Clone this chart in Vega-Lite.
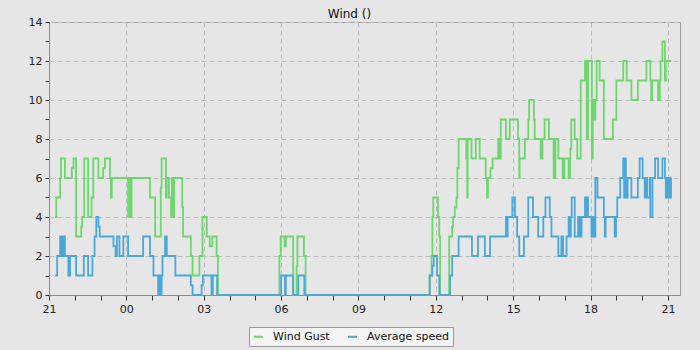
{
  "$schema": "https://vega.github.io/schema/vega-lite/v6.json",
  "width": 631,
  "height": 273,
  "autosize": {"type": "none"},
  "padding": {"left": 49, "top": 22, "right": 20, "bottom": 55},
  "background": "#e6e6e6",
  "title": {"text": "Wind ()", "fontSize": 12, "fontWeight": "normal", "font": "DejaVu Sans", "color": "#111111", "offset": 4, "dy": 9, "dx": -15},
  "data": {"values": [
    {"time": "2024-01-15T21:14", "series": "Wind Gust", "speed": 4},
    {"time": "2024-01-15T21:17", "series": "Wind Gust", "speed": 5},
    {"time": "2024-01-15T21:26", "series": "Wind Gust", "speed": 6},
    {"time": "2024-01-15T21:28", "series": "Wind Gust", "speed": 7},
    {"time": "2024-01-15T21:37", "series": "Wind Gust", "speed": 6},
    {"time": "2024-01-15T21:53", "series": "Wind Gust", "speed": 6.5},
    {"time": "2024-01-15T21:57", "series": "Wind Gust", "speed": 7},
    {"time": "2024-01-15T22:03", "series": "Wind Gust", "speed": 3},
    {"time": "2024-01-15T22:15", "series": "Wind Gust", "speed": 3.5},
    {"time": "2024-01-15T22:17", "series": "Wind Gust", "speed": 4},
    {"time": "2024-01-15T22:22", "series": "Wind Gust", "speed": 7},
    {"time": "2024-01-15T22:31", "series": "Wind Gust", "speed": 4},
    {"time": "2024-01-15T22:39", "series": "Wind Gust", "speed": 5},
    {"time": "2024-01-15T22:43", "series": "Wind Gust", "speed": 7},
    {"time": "2024-01-15T22:55", "series": "Wind Gust", "speed": 6},
    {"time": "2024-01-15T23:06", "series": "Wind Gust", "speed": 6.5},
    {"time": "2024-01-15T23:10", "series": "Wind Gust", "speed": 7},
    {"time": "2024-01-15T23:22", "series": "Wind Gust", "speed": 6},
    {"time": "2024-01-15T23:24", "series": "Wind Gust", "speed": 5},
    {"time": "2024-01-15T23:26", "series": "Wind Gust", "speed": 6},
    {"time": "2024-01-16T00:04", "series": "Wind Gust", "speed": 4},
    {"time": "2024-01-16T00:06", "series": "Wind Gust", "speed": 6},
    {"time": "2024-01-16T00:08", "series": "Wind Gust", "speed": 4},
    {"time": "2024-01-16T00:12", "series": "Wind Gust", "speed": 6},
    {"time": "2024-01-16T00:55", "series": "Wind Gust", "speed": 5},
    {"time": "2024-01-16T01:07", "series": "Wind Gust", "speed": 3},
    {"time": "2024-01-16T01:20", "series": "Wind Gust", "speed": 5.5},
    {"time": "2024-01-16T01:22", "series": "Wind Gust", "speed": 7},
    {"time": "2024-01-16T01:32", "series": "Wind Gust", "speed": 5},
    {"time": "2024-01-16T01:34", "series": "Wind Gust", "speed": 6},
    {"time": "2024-01-16T01:39", "series": "Wind Gust", "speed": 5},
    {"time": "2024-01-16T01:44", "series": "Wind Gust", "speed": 4},
    {"time": "2024-01-16T01:46", "series": "Wind Gust", "speed": 6},
    {"time": "2024-01-16T01:47", "series": "Wind Gust", "speed": 4},
    {"time": "2024-01-16T01:51", "series": "Wind Gust", "speed": 6},
    {"time": "2024-01-16T02:10", "series": "Wind Gust", "speed": 4.5},
    {"time": "2024-01-16T02:12", "series": "Wind Gust", "speed": 3},
    {"time": "2024-01-16T02:30", "series": "Wind Gust", "speed": 2},
    {"time": "2024-01-16T02:34", "series": "Wind Gust", "speed": 1},
    {"time": "2024-01-16T02:50", "series": "Wind Gust", "speed": 2},
    {"time": "2024-01-16T02:57", "series": "Wind Gust", "speed": 4},
    {"time": "2024-01-16T03:07", "series": "Wind Gust", "speed": 3},
    {"time": "2024-01-16T03:14", "series": "Wind Gust", "speed": 2.5},
    {"time": "2024-01-16T03:20", "series": "Wind Gust", "speed": 3},
    {"time": "2024-01-16T03:30", "series": "Wind Gust", "speed": 2},
    {"time": "2024-01-16T03:33", "series": "Wind Gust", "speed": 0},
    {"time": "2024-01-16T05:56", "series": "Wind Gust", "speed": 2},
    {"time": "2024-01-16T05:59", "series": "Wind Gust", "speed": 3},
    {"time": "2024-01-16T06:08", "series": "Wind Gust", "speed": 2.5},
    {"time": "2024-01-16T06:11", "series": "Wind Gust", "speed": 3},
    {"time": "2024-01-16T06:28", "series": "Wind Gust", "speed": 0},
    {"time": "2024-01-16T06:36", "series": "Wind Gust", "speed": 1.5},
    {"time": "2024-01-16T06:38", "series": "Wind Gust", "speed": 3},
    {"time": "2024-01-16T06:53", "series": "Wind Gust", "speed": 2},
    {"time": "2024-01-16T06:57", "series": "Wind Gust", "speed": 0},
    {"time": "2024-01-16T11:45", "series": "Wind Gust", "speed": 1},
    {"time": "2024-01-16T11:50", "series": "Wind Gust", "speed": 2},
    {"time": "2024-01-16T11:52", "series": "Wind Gust", "speed": 4},
    {"time": "2024-01-16T11:54", "series": "Wind Gust", "speed": 5},
    {"time": "2024-01-16T12:05", "series": "Wind Gust", "speed": 4},
    {"time": "2024-01-16T12:08", "series": "Wind Gust", "speed": 3},
    {"time": "2024-01-16T12:10", "series": "Wind Gust", "speed": 0},
    {"time": "2024-01-16T12:31", "series": "Wind Gust", "speed": 3},
    {"time": "2024-01-16T12:38", "series": "Wind Gust", "speed": 3.5},
    {"time": "2024-01-16T12:40", "series": "Wind Gust", "speed": 4},
    {"time": "2024-01-16T12:44", "series": "Wind Gust", "speed": 4.5},
    {"time": "2024-01-16T12:48", "series": "Wind Gust", "speed": 5},
    {"time": "2024-01-16T12:50", "series": "Wind Gust", "speed": 6.5},
    {"time": "2024-01-16T12:53", "series": "Wind Gust", "speed": 8},
    {"time": "2024-01-16T13:11", "series": "Wind Gust", "speed": 7},
    {"time": "2024-01-16T13:13", "series": "Wind Gust", "speed": 5},
    {"time": "2024-01-16T13:14", "series": "Wind Gust", "speed": 8},
    {"time": "2024-01-16T13:23", "series": "Wind Gust", "speed": 7},
    {"time": "2024-01-16T13:33", "series": "Wind Gust", "speed": 8},
    {"time": "2024-01-16T13:42", "series": "Wind Gust", "speed": 7},
    {"time": "2024-01-16T13:56", "series": "Wind Gust", "speed": 6},
    {"time": "2024-01-16T13:59", "series": "Wind Gust", "speed": 5},
    {"time": "2024-01-16T14:01", "series": "Wind Gust", "speed": 6},
    {"time": "2024-01-16T14:07", "series": "Wind Gust", "speed": 6.5},
    {"time": "2024-01-16T14:12", "series": "Wind Gust", "speed": 7},
    {"time": "2024-01-16T14:25", "series": "Wind Gust", "speed": 8},
    {"time": "2024-01-16T14:29", "series": "Wind Gust", "speed": 7},
    {"time": "2024-01-16T14:31", "series": "Wind Gust", "speed": 9},
    {"time": "2024-01-16T14:43", "series": "Wind Gust", "speed": 8},
    {"time": "2024-01-16T14:52", "series": "Wind Gust", "speed": 9},
    {"time": "2024-01-16T15:11", "series": "Wind Gust", "speed": 8},
    {"time": "2024-01-16T15:14", "series": "Wind Gust", "speed": 6},
    {"time": "2024-01-16T15:15", "series": "Wind Gust", "speed": 7},
    {"time": "2024-01-16T15:27", "series": "Wind Gust", "speed": 8},
    {"time": "2024-01-16T15:35", "series": "Wind Gust", "speed": 9},
    {"time": "2024-01-16T15:37", "series": "Wind Gust", "speed": 10},
    {"time": "2024-01-16T15:48", "series": "Wind Gust", "speed": 9},
    {"time": "2024-01-16T15:50", "series": "Wind Gust", "speed": 8},
    {"time": "2024-01-16T16:04", "series": "Wind Gust", "speed": 7},
    {"time": "2024-01-16T16:08", "series": "Wind Gust", "speed": 8},
    {"time": "2024-01-16T16:13", "series": "Wind Gust", "speed": 9},
    {"time": "2024-01-16T16:23", "series": "Wind Gust", "speed": 8},
    {"time": "2024-01-16T16:34", "series": "Wind Gust", "speed": 6},
    {"time": "2024-01-16T16:38", "series": "Wind Gust", "speed": 8},
    {"time": "2024-01-16T16:45", "series": "Wind Gust", "speed": 7},
    {"time": "2024-01-16T16:55", "series": "Wind Gust", "speed": 6},
    {"time": "2024-01-16T16:59", "series": "Wind Gust", "speed": 7},
    {"time": "2024-01-16T17:09", "series": "Wind Gust", "speed": 6},
    {"time": "2024-01-16T17:12", "series": "Wind Gust", "speed": 7},
    {"time": "2024-01-16T17:13", "series": "Wind Gust", "speed": 7.5},
    {"time": "2024-01-16T17:15", "series": "Wind Gust", "speed": 9},
    {"time": "2024-01-16T17:23", "series": "Wind Gust", "speed": 8},
    {"time": "2024-01-16T17:29", "series": "Wind Gust", "speed": 7},
    {"time": "2024-01-16T17:37", "series": "Wind Gust", "speed": 11},
    {"time": "2024-01-16T17:47", "series": "Wind Gust", "speed": 12},
    {"time": "2024-01-16T17:51", "series": "Wind Gust", "speed": 8},
    {"time": "2024-01-16T17:54", "series": "Wind Gust", "speed": 12},
    {"time": "2024-01-16T18:03", "series": "Wind Gust", "speed": 7},
    {"time": "2024-01-16T18:05", "series": "Wind Gust", "speed": 10},
    {"time": "2024-01-16T18:09", "series": "Wind Gust", "speed": 9},
    {"time": "2024-01-16T18:11", "series": "Wind Gust", "speed": 10},
    {"time": "2024-01-16T18:14", "series": "Wind Gust", "speed": 12},
    {"time": "2024-01-16T18:21", "series": "Wind Gust", "speed": 11},
    {"time": "2024-01-16T18:31", "series": "Wind Gust", "speed": 8},
    {"time": "2024-01-16T18:52", "series": "Wind Gust", "speed": 9},
    {"time": "2024-01-16T19:00", "series": "Wind Gust", "speed": 11},
    {"time": "2024-01-16T19:16", "series": "Wind Gust", "speed": 12},
    {"time": "2024-01-16T19:24", "series": "Wind Gust", "speed": 11},
    {"time": "2024-01-16T19:35", "series": "Wind Gust", "speed": 10},
    {"time": "2024-01-16T19:50", "series": "Wind Gust", "speed": 11},
    {"time": "2024-01-16T20:10", "series": "Wind Gust", "speed": 12},
    {"time": "2024-01-16T20:19", "series": "Wind Gust", "speed": 11},
    {"time": "2024-01-16T20:21", "series": "Wind Gust", "speed": 10},
    {"time": "2024-01-16T20:23", "series": "Wind Gust", "speed": 11},
    {"time": "2024-01-16T20:37", "series": "Wind Gust", "speed": 10},
    {"time": "2024-01-16T20:41", "series": "Wind Gust", "speed": 11},
    {"time": "2024-01-16T20:43", "series": "Wind Gust", "speed": 12},
    {"time": "2024-01-16T20:47", "series": "Wind Gust", "speed": 13},
    {"time": "2024-01-16T20:53", "series": "Wind Gust", "speed": 11},
    {"time": "2024-01-16T20:55", "series": "Wind Gust", "speed": 12},
    {"time": "2024-01-16T21:08", "series": "Wind Gust", "speed": 12},
    {"time": "2024-01-15T21:14", "series": "Average speed", "speed": 1},
    {"time": "2024-01-15T21:19", "series": "Average speed", "speed": 2},
    {"time": "2024-01-15T21:26", "series": "Average speed", "speed": 3},
    {"time": "2024-01-15T21:28", "series": "Average speed", "speed": 2},
    {"time": "2024-01-15T21:29", "series": "Average speed", "speed": 3},
    {"time": "2024-01-15T21:31", "series": "Average speed", "speed": 2},
    {"time": "2024-01-15T21:33", "series": "Average speed", "speed": 3},
    {"time": "2024-01-15T21:37", "series": "Average speed", "speed": 2},
    {"time": "2024-01-15T21:45", "series": "Average speed", "speed": 1},
    {"time": "2024-01-15T21:49", "series": "Average speed", "speed": 2},
    {"time": "2024-01-15T22:03", "series": "Average speed", "speed": 1},
    {"time": "2024-01-15T22:21", "series": "Average speed", "speed": 2},
    {"time": "2024-01-15T22:31", "series": "Average speed", "speed": 1},
    {"time": "2024-01-15T22:41", "series": "Average speed", "speed": 2},
    {"time": "2024-01-15T22:46", "series": "Average speed", "speed": 3},
    {"time": "2024-01-15T22:50", "series": "Average speed", "speed": 4},
    {"time": "2024-01-15T22:55", "series": "Average speed", "speed": 3.5},
    {"time": "2024-01-15T22:58", "series": "Average speed", "speed": 3},
    {"time": "2024-01-15T23:30", "series": "Average speed", "speed": 2.5},
    {"time": "2024-01-15T23:35", "series": "Average speed", "speed": 2},
    {"time": "2024-01-15T23:38", "series": "Average speed", "speed": 3},
    {"time": "2024-01-15T23:44", "series": "Average speed", "speed": 2},
    {"time": "2024-01-15T23:53", "series": "Average speed", "speed": 3},
    {"time": "2024-01-16T00:04", "series": "Average speed", "speed": 2},
    {"time": "2024-01-16T00:39", "series": "Average speed", "speed": 3},
    {"time": "2024-01-16T00:55", "series": "Average speed", "speed": 2},
    {"time": "2024-01-16T01:03", "series": "Average speed", "speed": 1},
    {"time": "2024-01-16T01:14", "series": "Average speed", "speed": 0},
    {"time": "2024-01-16T01:17", "series": "Average speed", "speed": 1},
    {"time": "2024-01-16T01:19", "series": "Average speed", "speed": 0},
    {"time": "2024-01-16T01:22", "series": "Average speed", "speed": 1},
    {"time": "2024-01-16T01:24", "series": "Average speed", "speed": 2},
    {"time": "2024-01-16T01:30", "series": "Average speed", "speed": 3},
    {"time": "2024-01-16T01:34", "series": "Average speed", "speed": 2},
    {"time": "2024-01-16T01:54", "series": "Average speed", "speed": 1},
    {"time": "2024-01-16T02:30", "series": "Average speed", "speed": 0.5},
    {"time": "2024-01-16T02:34", "series": "Average speed", "speed": 0},
    {"time": "2024-01-16T02:55", "series": "Average speed", "speed": 0.5},
    {"time": "2024-01-16T02:58", "series": "Average speed", "speed": 1},
    {"time": "2024-01-16T03:18", "series": "Average speed", "speed": 0},
    {"time": "2024-01-16T03:21", "series": "Average speed", "speed": 1},
    {"time": "2024-01-16T03:31", "series": "Average speed", "speed": 0},
    {"time": "2024-01-16T06:00", "series": "Average speed", "speed": 1},
    {"time": "2024-01-16T06:09", "series": "Average speed", "speed": 0},
    {"time": "2024-01-16T06:11", "series": "Average speed", "speed": 1},
    {"time": "2024-01-16T06:28", "series": "Average speed", "speed": 0},
    {"time": "2024-01-16T06:40", "series": "Average speed", "speed": 1},
    {"time": "2024-01-16T06:54", "series": "Average speed", "speed": 0},
    {"time": "2024-01-16T11:46", "series": "Average speed", "speed": 1},
    {"time": "2024-01-16T11:52", "series": "Average speed", "speed": 1.5},
    {"time": "2024-01-16T11:55", "series": "Average speed", "speed": 2},
    {"time": "2024-01-16T12:03", "series": "Average speed", "speed": 1},
    {"time": "2024-01-16T12:08", "series": "Average speed", "speed": 0},
    {"time": "2024-01-16T12:33", "series": "Average speed", "speed": 1},
    {"time": "2024-01-16T12:38", "series": "Average speed", "speed": 2},
    {"time": "2024-01-16T12:53", "series": "Average speed", "speed": 3},
    {"time": "2024-01-16T13:24", "series": "Average speed", "speed": 2},
    {"time": "2024-01-16T13:38", "series": "Average speed", "speed": 3},
    {"time": "2024-01-16T13:54", "series": "Average speed", "speed": 2},
    {"time": "2024-01-16T14:06", "series": "Average speed", "speed": 3},
    {"time": "2024-01-16T14:43", "series": "Average speed", "speed": 4},
    {"time": "2024-01-16T14:45", "series": "Average speed", "speed": 3},
    {"time": "2024-01-16T14:47", "series": "Average speed", "speed": 4},
    {"time": "2024-01-16T14:58", "series": "Average speed", "speed": 5},
    {"time": "2024-01-16T15:04", "series": "Average speed", "speed": 4},
    {"time": "2024-01-16T15:09", "series": "Average speed", "speed": 3},
    {"time": "2024-01-16T15:14", "series": "Average speed", "speed": 2},
    {"time": "2024-01-16T15:25", "series": "Average speed", "speed": 3},
    {"time": "2024-01-16T15:35", "series": "Average speed", "speed": 5},
    {"time": "2024-01-16T15:46", "series": "Average speed", "speed": 4},
    {"time": "2024-01-16T15:58", "series": "Average speed", "speed": 3},
    {"time": "2024-01-16T16:10", "series": "Average speed", "speed": 4},
    {"time": "2024-01-16T16:15", "series": "Average speed", "speed": 5},
    {"time": "2024-01-16T16:25", "series": "Average speed", "speed": 4},
    {"time": "2024-01-16T16:29", "series": "Average speed", "speed": 3},
    {"time": "2024-01-16T16:45", "series": "Average speed", "speed": 2},
    {"time": "2024-01-16T16:52", "series": "Average speed", "speed": 3},
    {"time": "2024-01-16T16:56", "series": "Average speed", "speed": 2},
    {"time": "2024-01-16T17:04", "series": "Average speed", "speed": 3},
    {"time": "2024-01-16T17:09", "series": "Average speed", "speed": 4},
    {"time": "2024-01-16T17:12", "series": "Average speed", "speed": 3},
    {"time": "2024-01-16T17:14", "series": "Average speed", "speed": 4},
    {"time": "2024-01-16T17:16", "series": "Average speed", "speed": 5},
    {"time": "2024-01-16T17:23", "series": "Average speed", "speed": 3},
    {"time": "2024-01-16T17:31", "series": "Average speed", "speed": 4},
    {"time": "2024-01-16T17:35", "series": "Average speed", "speed": 3},
    {"time": "2024-01-16T17:39", "series": "Average speed", "speed": 4},
    {"time": "2024-01-16T17:47", "series": "Average speed", "speed": 5},
    {"time": "2024-01-16T17:50", "series": "Average speed", "speed": 4},
    {"time": "2024-01-16T17:52", "series": "Average speed", "speed": 5},
    {"time": "2024-01-16T17:54", "series": "Average speed", "speed": 4},
    {"time": "2024-01-16T18:02", "series": "Average speed", "speed": 3},
    {"time": "2024-01-16T18:05", "series": "Average speed", "speed": 4},
    {"time": "2024-01-16T18:07", "series": "Average speed", "speed": 3},
    {"time": "2024-01-16T18:11", "series": "Average speed", "speed": 6},
    {"time": "2024-01-16T18:16", "series": "Average speed", "speed": 5},
    {"time": "2024-01-16T18:31", "series": "Average speed", "speed": 4},
    {"time": "2024-01-16T18:33", "series": "Average speed", "speed": 3},
    {"time": "2024-01-16T18:35", "series": "Average speed", "speed": 4},
    {"time": "2024-01-16T18:56", "series": "Average speed", "speed": 3},
    {"time": "2024-01-16T18:59", "series": "Average speed", "speed": 4},
    {"time": "2024-01-16T19:02", "series": "Average speed", "speed": 5},
    {"time": "2024-01-16T19:09", "series": "Average speed", "speed": 6},
    {"time": "2024-01-16T19:16", "series": "Average speed", "speed": 7},
    {"time": "2024-01-16T19:18", "series": "Average speed", "speed": 5},
    {"time": "2024-01-16T19:20", "series": "Average speed", "speed": 7},
    {"time": "2024-01-16T19:22", "series": "Average speed", "speed": 6},
    {"time": "2024-01-16T19:24", "series": "Average speed", "speed": 5},
    {"time": "2024-01-16T19:26", "series": "Average speed", "speed": 6},
    {"time": "2024-01-16T19:35", "series": "Average speed", "speed": 5},
    {"time": "2024-01-16T19:50", "series": "Average speed", "speed": 6},
    {"time": "2024-01-16T19:54", "series": "Average speed", "speed": 7},
    {"time": "2024-01-16T20:01", "series": "Average speed", "speed": 6},
    {"time": "2024-01-16T20:06", "series": "Average speed", "speed": 5},
    {"time": "2024-01-16T20:10", "series": "Average speed", "speed": 6},
    {"time": "2024-01-16T20:12", "series": "Average speed", "speed": 5},
    {"time": "2024-01-16T20:18", "series": "Average speed", "speed": 6},
    {"time": "2024-01-16T20:19", "series": "Average speed", "speed": 4},
    {"time": "2024-01-16T20:24", "series": "Average speed", "speed": 6},
    {"time": "2024-01-16T20:30", "series": "Average speed", "speed": 7},
    {"time": "2024-01-16T20:37", "series": "Average speed", "speed": 6},
    {"time": "2024-01-16T20:47", "series": "Average speed", "speed": 7},
    {"time": "2024-01-16T20:53", "series": "Average speed", "speed": 6},
    {"time": "2024-01-16T20:55", "series": "Average speed", "speed": 5},
    {"time": "2024-01-16T20:57", "series": "Average speed", "speed": 6},
    {"time": "2024-01-16T21:00", "series": "Average speed", "speed": 5},
    {"time": "2024-01-16T21:02", "series": "Average speed", "speed": 6},
    {"time": "2024-01-16T21:04", "series": "Average speed", "speed": 5},
    {"time": "2024-01-16T21:07", "series": "Average speed", "speed": 6},
    {"time": "2024-01-16T21:08", "series": "Average speed", "speed": 6}
  ]},
  "mark": {"type": "line", "interpolate": "step-after", "strokeWidth": 1.8},
  "encoding": {
    "x": {
      "field": "time",
      "type": "temporal",
      "title": null,
      "scale": {"domain": [
        {"year": 2024, "month": 1, "date": 15, "hours": 21, "minutes": 0},
        {"year": 2024, "month": 1, "date": 16, "hours": 21, "minutes": 28}
      ]},
      "axis": {
        "tickCount": 25,
        "labelExpr": "hours(datum.value) % 3 === 0 ? timeFormat(datum.value, '%H') : ''",
        "labelFlush": false,
        "labelOverlap": false,
        "labelFont": "DejaVu Sans",
        "labelFontSize": 11,
        "labelColor": "#222222",
        "labelPadding": 3,
        "grid": true,
        "gridColor": "#bcbcbc",
        "gridDash": [5, 3],
        "gridOpacity": {"condition": {"test": "hours(datum.value) % 3 === 0", "value": 1}, "value": 0},
        "tickColor": "#333333",
        "tickSize": 5,
        "domainColor": "#8c8c8c"
      }
    },
    "y": {
      "field": "speed",
      "type": "quantitative",
      "title": null,
      "scale": {"domain": [0, 14], "nice": false},
      "axis": {
        "values": [0, 1, 2, 3, 4, 5, 6, 7, 8, 9, 10, 11, 12, 13, 14],
        "labelExpr": "datum.value % 2 === 0 ? datum.label : ''",
        "labelOverlap": false,
        "labelFont": "DejaVu Sans",
        "labelFontSize": 11,
        "labelColor": "#222222",
        "labelPadding": 3,
        "grid": true,
        "gridColor": "#bcbcbc",
        "gridDash": [5, 3],
        "gridOpacity": {"condition": {"test": "datum.value % 2 === 0", "value": 1}, "value": 0},
        "tickColor": "#333333",
        "tickSize": 4,
        "domainColor": "#8c8c8c"
      }
    },
    "color": {
      "field": "series",
      "type": "nominal",
      "scale": {"domain": ["Wind Gust", "Average speed"], "range": ["#6dd66d", "#4ba7d9"]},
      "legend": {
        "title": null,
        "orient": "none",
        "legendX": 200,
        "legendY": 305,
        "direction": "horizontal",
        "symbolType": "stroke",
        "symbolStrokeWidth": 2,
        "symbolSize": 81,
        "labelFont": "DejaVu Sans",
        "labelFontSize": 11,
        "labelColor": "#111111",
        "labelOffset": 9,
        "columnPadding": 14,
        "padding": 4,
        "strokeColor": "#9a9a9a",
        "fillColor": "#f4f4f4"
      }
    }
  },
  "config": {
    "view": {"stroke": "#9a9a9a", "strokeWidth": 1}
  }
}
